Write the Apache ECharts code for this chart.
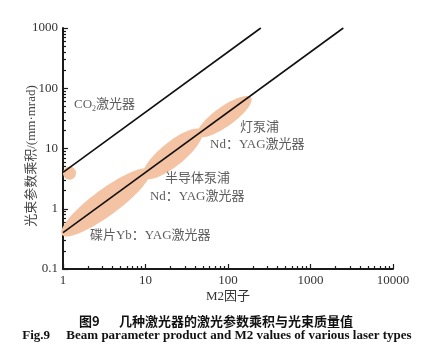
<!DOCTYPE html>
<html><head><meta charset="utf-8">
<script src="https://cdn.jsdelivr.net/npm/echarts@6/dist/echarts.min.js"></script>
<style>html,body{margin:0;padding:0;background:#fff}#c{width:425px;height:358px}</style>
</head><body><div id="c"></div>
<script>
// ---- data ----
const xTickLabels = [1, 10, 100, 1000, 10000];
const yTickLabels = [0.1, 1, 10, 100, 1000];
const minorMantissas = [2, 3, 4, 5, 6, 7, 8, 9];
const xMinorDecades = [1, 10, 100, 1000];
const yMinorDecades = [0.1, 1, 10, 100];
const co2Line = [[1, 4], [250, 1000]];
const ndLine = [[1, 0.4], [2500, 1000]];
// ellipse regions: [M2 start, BPP start, M2 end, BPP end, width ratio]
const ellipseCO2 = [1.0, 3.9, 1.44, 3.9, 1.0];
const ellipseYb = [0.97, 0.37, 11.3, 4.4, 0.24];
const ellipseDiode = [9.5, 3.3, 48, 20, 0.32];
const ellipseLamp = [43, 16.3, 190, 70, 0.30];
const labelTexts = ['CO2激光器', '灯泵浦', 'Nd：YAG激光器', '半导体泵浦', 'Nd：YAG激光器', '碟片Yb：YAG激光器'];
const labelM2 = [1.36, 140, 60.5, 17.2, 11.3, 2.12];
const labelBPP = [53, 22, 11.5, 3.15, 1.58, 0.356];

const xMinor = [], yMinor = [];
xMinorDecades.forEach(d => minorMantissas.forEach(m => xMinor.push(+(d * m).toPrecision(6))));
yMinorDecades.forEach(d => minorMantissas.forEach(m => yMinor.push(+(d * m).toPrecision(6))));

const FONT = "'Liberation Serif', 'Noto Sans CJK SC', serif";
const TXT = '#333';
const AX = '#1a1a1a';
const fmt = v => String(+(+v).toPrecision(6));

const chart = echarts.init(document.getElementById('c'), null, {renderer: 'canvas'});

function ellipseItem(params, api) {
  const p1 = api.coord([api.value(0), api.value(1)]);
  const p2 = api.coord([api.value(2), api.value(3)]);
  const ratio = api.value(4);
  const cx = (p1[0] + p2[0]) / 2, cy = (p1[1] + p2[1]) / 2;
  const dx = p2[0] - p1[0], dy = p2[1] - p1[1];
  const a = Math.sqrt(dx * dx + dy * dy) / 2, b = a * ratio;
  const ux = dx / (2 * a), uy = dy / (2 * a);
  const pts = [];
  for (let i = 0; i < 72; i++) {
    const t = i / 72 * Math.PI * 2;
    const ex = a * Math.cos(t), ey = b * Math.sin(t);
    pts.push([cx + ex * ux - ey * uy, cy + ex * uy + ey * ux]);
  }
  return {type: 'polygon', shape: {points: pts}, style: {fill: '#f4c3a3', stroke: null}};
}

const baseAxis = {
  type: 'log', logBase: 10,
  axisLine: {show: true, lineStyle: {color: AX, width: 2}},
  splitLine: {show: false},
  minorTick: {show: false}
};

const option = {
  backgroundColor: '#fff',
  animation: false,
  grid: {left: 63, right: 32, top: 28, bottom: 89, outerBoundsMode: 'none', containLabel: false},
  xAxis: [
    Object.assign({}, baseAxis, {
      min: 1, max: 10000, position: 'bottom',
      name: 'M2因子', nameLocation: 'middle', nameGap: 21, nameMoveOverlap: false,
      nameTextStyle: {fontFamily: FONT, fontSize: 13, color: TXT},
      axisTick: {show: true, inside: true, length: 5, lineStyle: {color: AX, width: 1.2}, customValues: xTickLabels},
      axisLabel: {show: true, margin: 5, fontFamily: FONT, fontSize: 13, color: TXT, customValues: xTickLabels, formatter: fmt}
    }),
    Object.assign({}, baseAxis, {
      min: 1, max: 10000, position: 'bottom', offset: 0,
      axisLine: {show: false},
      axisTick: {show: true, inside: true, length: 3, lineStyle: {color: AX, width: 1.2}, customValues: xMinor},
      axisLabel: {show: false}
    })
  ],
  yAxis: [
    Object.assign({}, baseAxis, {
      min: 0.1, max: 1000, position: 'left',
      axisTick: {show: true, inside: true, length: 5, lineStyle: {color: AX, width: 1.2}, customValues: yTickLabels},
      axisLabel: {show: true, margin: 5, fontFamily: FONT, fontSize: 13, color: TXT, customValues: yTickLabels, formatter: fmt}
    }),
    Object.assign({}, baseAxis, {
      min: 0.1, max: 1000, position: 'left', offset: 0,
      axisLine: {show: false},
      axisTick: {show: true, inside: true, length: 3, lineStyle: {color: AX, width: 1.2}, customValues: yMinor},
      axisLabel: {show: false}
    })
  ],
  series: [
    {
      type: 'custom', xAxisIndex: 0, yAxisIndex: 0, clip: false, silent: true,
      renderItem: ellipseItem,
      encode: {x: [0, 2], y: [1, 3]},
      data: [ellipseCO2, ellipseYb, ellipseDiode, ellipseLamp]
    },
    {
      type: 'line', xAxisIndex: 0, yAxisIndex: 0, showSymbol: false, symbol: 'none',
      lineStyle: {color: '#111', width: 1.6}, data: co2Line
    },
    {
      type: 'line', xAxisIndex: 0, yAxisIndex: 0, showSymbol: false, symbol: 'none',
      lineStyle: {color: '#111', width: 1.6}, data: ndLine
    },
    {
      type: 'scatter', xAxisIndex: 0, yAxisIndex: 0, symbolSize: 0, silent: true,
      data: labelTexts.map((t, i) => [labelM2[i], labelBPP[i], t]),
      label: {
        show: true, position: 'right', distance: 0,
        fontFamily: FONT, fontSize: 13, color: TXT,
        formatter: p => {
          const t = p.data[2];
          if (t.indexOf('CO2') === 0) return '{a|CO}{s|2}{a|' + t.slice(3) + '}';
          return '{a|' + t + '}';
        },
        rich: {
          a: {fontFamily: FONT, fontSize: 13, color: TXT, lineHeight: 16},
          s: {fontFamily: FONT, fontSize: 8, color: TXT, lineHeight: 16, verticalAlign: 'bottom', padding: [6, 0, 0, 0]}
        }
      }
    }
  ],
  graphic: [
    {type: 'text', x: 32, y: 156, rotation: Math.PI / 2, style: {text: '光束参数乘积/(mm·mrad)', font: "13px 'Liberation Serif', 'Noto Sans CJK SC'", fill: '#444', align: 'center', verticalAlign: 'middle'}},
    {type: 'text', x: 216, y: 321, style: {text: '图9\u2003\u2002几种激光器的激光参数乘积与光束质量值', font: "bold 13px 'Noto Sans CJK SC'", fill: '#111', align: 'center', verticalAlign: 'middle'}},
    {type: 'text', x: 217, y: 336, style: {text: 'Fig.9     Beam parameter product and M2 values of various laser types', font: "bold 13px 'Liberation Serif'", fill: '#111', align: 'center', verticalAlign: 'middle'}}
  ]
};
chart.setOption(option);
</script>
</body></html>
